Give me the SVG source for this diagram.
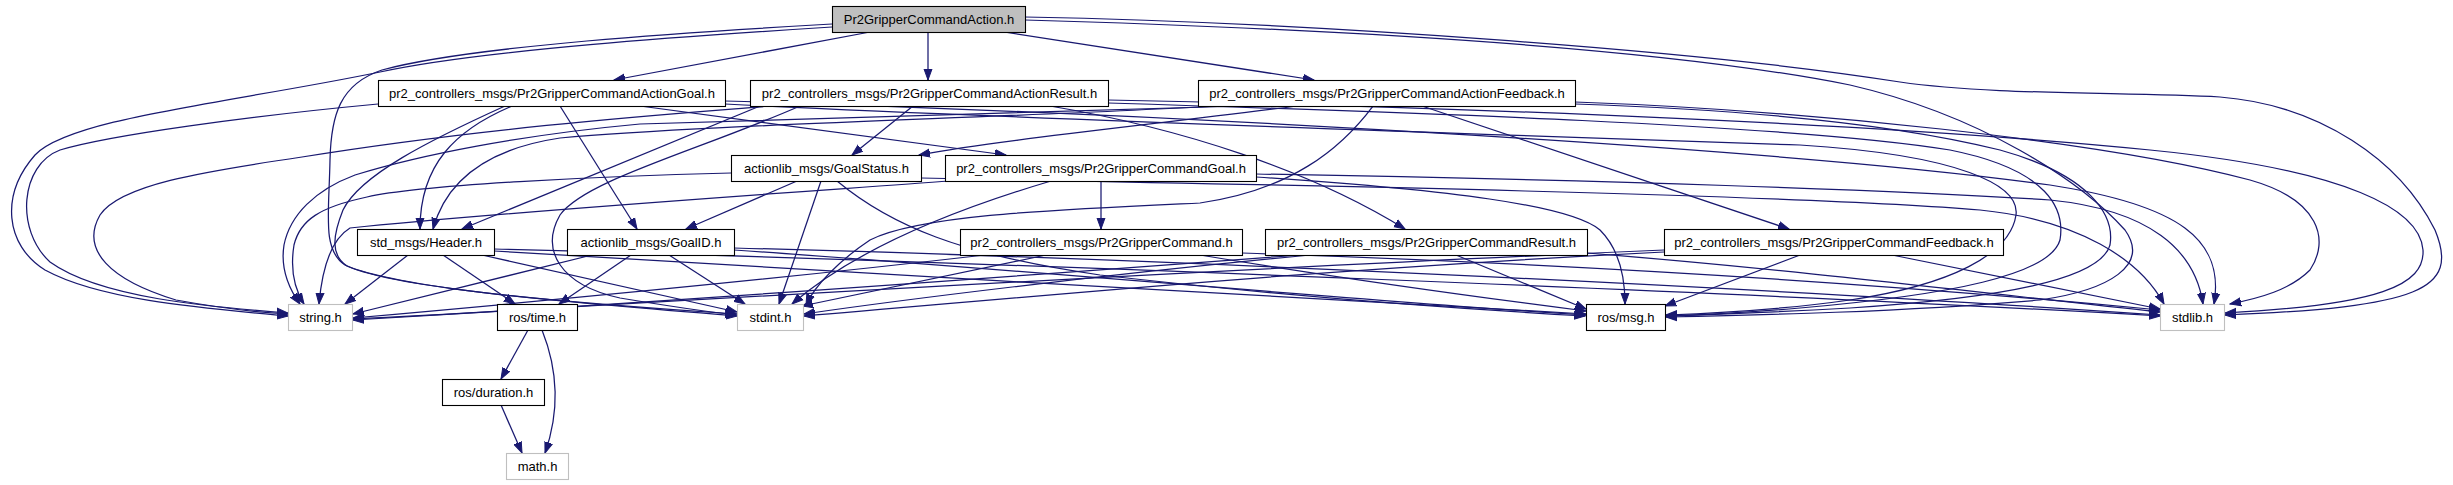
<svg xmlns="http://www.w3.org/2000/svg" width="2453" height="485" viewBox="0 0 2453 485">
<defs>
<marker id="a" markerWidth="12" markerHeight="10" refX="11" refY="5" orient="auto" markerUnits="userSpaceOnUse"><path d="M0,1 L11,5 L0,9 z" fill="#191970" stroke="#191970" stroke-width="1"/></marker>
<style>
.e path{fill:none;stroke:#191970;stroke-width:1.25;marker-end:url(#a)}
.n rect{fill:#fff;stroke:#000;stroke-width:1.1}
.n.x rect{stroke:#bfbfbf}
.n.r rect{fill:#bfbfbf}
.n text{font-family:"Liberation Sans",Arial,Helvetica,sans-serif;font-size:13px;text-anchor:middle;fill:#000}
</style>
</defs>
<rect width="2453" height="485" fill="#fff"/>
<g class="e" id="edges">
<path d="M870,32 L614,80"/>
<path d="M928,32 L928,80"/>
<path d="M1004,32 L1314,80"/>
<path d="M832,27 C690,36 480,50 380,72 C230,103 70,118 35,155 C0,195 5,245 45,270 C100,300 200,308 288,316"/>
<path d="M832,24 C690,32 470,46 382,70 C340,84 331,115 330,160 C329,215 322,250 345,265 C400,290 600,305 737,316"/>
<path d="M1025,20 C1300,28 1650,45 1850,85 C1980,115 2080,180 2125,230 C2150,265 2110,290 2040,300 C1900,312 1760,315 1666,317"/>
<path d="M1025,17 C1300,22 1700,50 1900,82 C1990,95 2120,92 2220,97 C2320,105 2400,160 2435,230 C2460,290 2420,307 2225,315"/>
<path d="M512,106 C455,130 420,165 420,229"/>
<path d="M560,106 L637,229"/>
<path d="M640,106 L1006,155"/>
<path d="M378,104 C250,116 110,135 60,150 C20,165 15,230 50,262 C100,298 210,307 288,313"/>
<path d="M505,106 C430,140 360,175 343,210 C333,235 330,255 347,266 C400,290 600,305 737,314"/>
<path d="M725,104 C1000,118 1500,135 1800,145 C1960,155 2020,185 2016,215 C2010,255 1950,285 1850,300 C1780,310 1720,313 1666,315"/>
<path d="M725,101 C1200,115 1800,150 2050,185 C2180,205 2225,240 2214,304"/>
<path d="M760,106 L462,229"/>
<path d="M770,106 C700,112 500,125 302,157 C200,172 120,185 100,215 C80,250 110,280 176,300 C220,308 250,312 288,314"/>
<path d="M913,106 L852,155"/>
<path d="M1050,106 C1180,128 1310,170 1405,229"/>
<path d="M800,106 C700,150 585,180 560,215 C540,250 560,285 620,298 C680,308 710,312 736,315"/>
<path d="M1108,103 C1400,112 1800,125 1950,150 C2050,170 2065,210 2060,240 C2050,275 1950,295 1800,308 C1740,313 1700,315 1666,316"/>
<path d="M1108,100 C1500,108 1900,125 2150,150 C2350,170 2420,210 2423,250 C2425,285 2380,305 2225,313"/>
<path d="M1297,106 C1150,125 1000,140 919,155"/>
<path d="M1218,106 C1000,118 700,125 560,138 C480,150 445,185 433,229"/>
<path d="M1422,106 L1789,229"/>
<path d="M1240,106 C1000,114 800,118 640,124 C520,135 420,155 355,175 C315,190 290,215 284,245 C280,270 290,290 300,304"/>
<path d="M1373,106 C1340,150 1290,190 1200,203 C1050,210 920,215 870,240 C840,260 815,285 806,305"/>
<path d="M1575,104 C1750,110 1900,125 2000,150 C2090,175 2115,215 2110,245 C2100,280 2000,298 1850,308 C1760,313 1700,315 1666,316"/>
<path d="M1575,102 C1800,110 2100,140 2250,180 C2320,200 2330,240 2310,270 C2290,290 2260,298 2230,304"/>
<path d="M797,181 L686,229"/>
<path d="M821,181 L779,304"/>
<path d="M731,173 C600,176 420,185 367,197 C320,207 300,220 294,245 C290,270 295,290 304,304"/>
<path d="M837,181 C890,225 960,255 1100,275 C1300,298 1480,310 1585,316"/>
<path d="M921,178 C1300,185 1800,195 1980,210 C2080,220 2140,260 2164,304"/>
<path d="M1101,181 L1101,229"/>
<path d="M1051,181 C970,205 860,245 792,304"/>
<path d="M950,181 C800,192 500,212 350,228 C330,240 322,270 319,304"/>
<path d="M1256,177 C1450,190 1570,205 1600,230 C1620,250 1625,280 1625,304"/>
<path d="M1256,174 C1600,180 1900,190 2050,200 C2150,210 2195,250 2203,304"/>
<path d="M408,255 L345,304"/>
<path d="M443,255 L515,304"/>
<path d="M482,255 L737,312"/>
<path d="M494,251 C800,268 1300,300 1586,314"/>
<path d="M494,249 C1000,262 1800,295 2160,316"/>
<path d="M592,255 L353,314"/>
<path d="M631,255 L559,304"/>
<path d="M669,255 L745,304"/>
<path d="M734,250 C1000,268 1350,300 1586,315"/>
<path d="M734,248 C1200,260 1800,290 2160,315"/>
<path d="M985,255 C750,282 500,305 353,318"/>
<path d="M1046,255 L802,306"/>
<path d="M1200,255 C1350,280 1500,300 1586,311"/>
<path d="M1242,253 C1600,265 1900,285 2160,310"/>
<path d="M1300,255 C900,285 550,310 353,319"/>
<path d="M1310,255 C1100,275 900,300 804,314"/>
<path d="M1456,255 L1586,309"/>
<path d="M1587,253 C1800,270 2000,295 2160,312"/>
<path d="M1664,250 C1200,270 600,305 353,320"/>
<path d="M1664,252 C1300,270 1000,300 804,316"/>
<path d="M1800,255 L1665,306"/>
<path d="M1892,255 L2160,309"/>
<path d="M528,330 L501,379"/>
<path d="M542,330 C556,365 562,405 545,453"/>
<path d="M501,405 L522,453"/>
</g>
<g class="n r" id="n0"><rect x="832.5" y="6.5" width="193" height="26"/><text x="929" y="24">Pr2GripperCommandAction.h</text></g>
<g class="n" id="n1"><rect x="378.5" y="80.5" width="347" height="26"/><text x="552" y="98">pr2_controllers_msgs/Pr2GripperCommandActionGoal.h</text></g>
<g class="n" id="n2"><rect x="750.5" y="80.5" width="358" height="26"/><text x="929.5" y="98">pr2_controllers_msgs/Pr2GripperCommandActionResult.h</text></g>
<g class="n" id="n3"><rect x="1198.5" y="80.5" width="377" height="26"/><text x="1387" y="98">pr2_controllers_msgs/Pr2GripperCommandActionFeedback.h</text></g>
<g class="n" id="n4"><rect x="731.5" y="155.5" width="190" height="26"/><text x="826.5" y="173">actionlib_msgs/GoalStatus.h</text></g>
<g class="n" id="n5"><rect x="945.5" y="155.5" width="311" height="26"/><text x="1101" y="173">pr2_controllers_msgs/Pr2GripperCommandGoal.h</text></g>
<g class="n" id="n6"><rect x="357.5" y="229.5" width="137" height="26"/><text x="426" y="247">std_msgs/Header.h</text></g>
<g class="n" id="n7"><rect x="567.5" y="229.5" width="167" height="26"/><text x="651" y="247">actionlib_msgs/GoalID.h</text></g>
<g class="n" id="n8"><rect x="960.5" y="229.5" width="282" height="26"/><text x="1101.5" y="247">pr2_controllers_msgs/Pr2GripperCommand.h</text></g>
<g class="n" id="n9"><rect x="1265.5" y="229.5" width="322" height="26"/><text x="1426.5" y="247">pr2_controllers_msgs/Pr2GripperCommandResult.h</text></g>
<g class="n" id="n10"><rect x="1664.5" y="229.5" width="339" height="26"/><text x="1834" y="247">pr2_controllers_msgs/Pr2GripperCommandFeedback.h</text></g>
<g class="n x" id="n11"><rect x="288.5" y="304.5" width="64" height="26"/><text x="320.5" y="322">string.h</text></g>
<g class="n" id="n12"><rect x="497.5" y="304.5" width="80" height="26"/><text x="537.5" y="322">ros/time.h</text></g>
<g class="n x" id="n13"><rect x="737.5" y="304.5" width="66" height="26"/><text x="770.5" y="322">stdint.h</text></g>
<g class="n" id="n14"><rect x="1586.5" y="304.5" width="79" height="26"/><text x="1626" y="322">ros/msg.h</text></g>
<g class="n x" id="n15"><rect x="2160.5" y="304.5" width="64" height="26"/><text x="2192.5" y="322">stdlib.h</text></g>
<g class="n" id="n16"><rect x="442.5" y="379.5" width="102" height="26"/><text x="493.5" y="397">ros/duration.h</text></g>
<g class="n x" id="n17"><rect x="506.5" y="453.5" width="62" height="26"/><text x="537.5" y="471">math.h</text></g>
</svg>
